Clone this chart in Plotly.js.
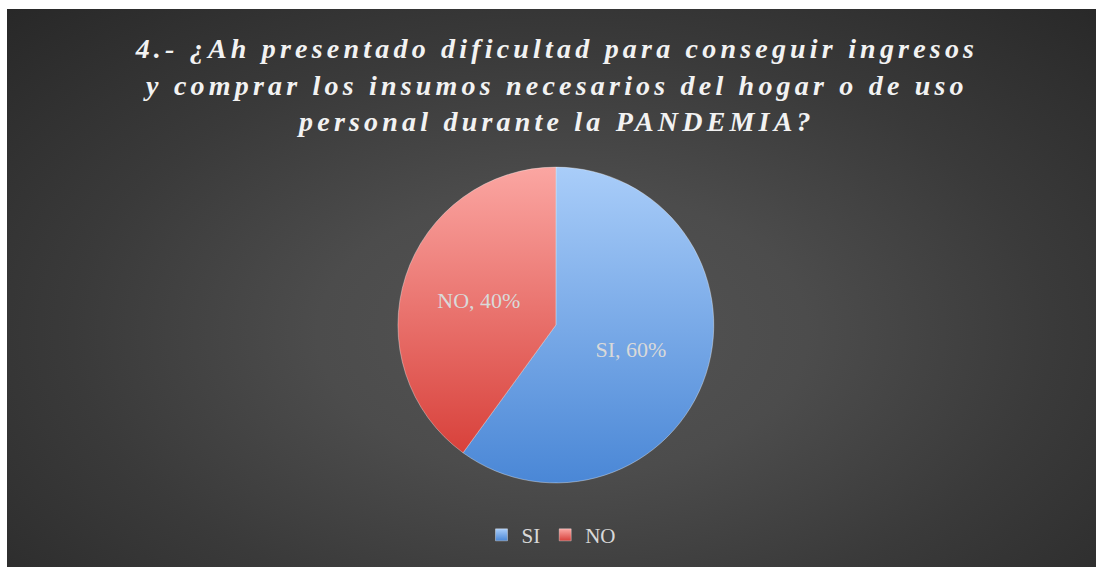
<!DOCTYPE html>
<html><head><meta charset="utf-8">
<script src="https://cdn.plot.ly/plotly-3.0.1.min.js"></script>
<style>
html,body{margin:0;padding:0;background:#ffffff;overflow:hidden;}
#wrap{position:absolute;left:7px;top:9px;width:1089px;height:558px;
background:radial-gradient(ellipse 75% 85% at 51% 58%, #545454 0%, #4c4c4c 30%, #3a3a3a 60%, #262626 100%);}
#chart{width:1089px;height:558px;}
.gtitle{letter-spacing:4.2px;}
</style></head><body>
<div id="wrap"><div id="chart"></div></div>
<script>
const categories = ['SI', 'NO'];
const values = [60, 40];
const titleLines = [
  '4.- ¿Ah presentado dificultad para conseguir ingresos',
  'y comprar los insumos necesarios del hogar o de uso',
  'personal durante la PANDEMIA?'
];
const gradients = {
  SI: ['#a9cdf9', '#4a87d6'],
  NO: ['#fba6a2', '#d8413b']
};

const trace = {
  type: 'pie',
  labels: categories,
  values: values,
  sort: false,
  direction: 'clockwise',
  rotation: 0,
  marker: {colors: categories.map(c => gradients[c][1]), line: {color: 'rgba(255,255,255,0.35)', width: 1}},
  texttemplate: '%{label}, %{percent}',
  textposition: 'inside',
  insidetextorientation: 'horizontal',
  textfont: {family: 'Liberation Serif, serif', size: 22, color: '#d9d9d9'},
  domain: {x: [0.359, 0.649], y: [0.1505, 0.7168]},
  hoverinfo: 'none'
};

const layout = {
  width: 1089, height: 558,
  margin: {l: 0, r: 0, t: 0, b: 0},
  paper_bgcolor: 'rgba(0,0,0,0)',
  plot_bgcolor: 'rgba(0,0,0,0)',
  title: {
    text: '<b><i>' + titleLines.join('<br>') + '</i></b>',
    font: {family: 'Liberation Serif, serif', size: 28, color: '#f2f2f2'},
    x: 0.505, xanchor: 'center', xref: 'paper',
    y: 0.912, yanchor: 'middle', yref: 'paper'
  },
  showlegend: true,
  legend: {
    orientation: 'h', x: 0.5, xanchor: 'center', y: 0.057, yanchor: 'middle',
    font: {family: 'Liberation Serif, serif', size: 21, color: '#d9d9d9'},
    bgcolor: 'rgba(0,0,0,0)'
  }
};

Plotly.newPlot('chart', [trace], layout, {staticPlot: true}).then(gd => {
  const svg = gd.querySelector('svg.main-svg');
  const ns = 'http://www.w3.org/2000/svg';
  let defs = svg.querySelector('defs');
  if (!defs) { defs = document.createElementNS(ns, 'defs'); svg.insertBefore(defs, svg.firstChild); }
  categories.forEach(c => {
    const g = document.createElementNS(ns, 'linearGradient');
    g.setAttribute('id', 'grad' + c);
    g.setAttribute('x1', '0'); g.setAttribute('y1', '0');
    g.setAttribute('x2', '0'); g.setAttribute('y2', '1');
    [[0, gradients[c][0]], [1, gradients[c][1]]].forEach(([o, col]) => {
      const s = document.createElementNS(ns, 'stop');
      s.setAttribute('offset', o); s.setAttribute('stop-color', col);
      g.appendChild(s);
    });
    defs.appendChild(g);
  });
  const slices = gd.querySelectorAll('.slice path.surface');
  slices.forEach((p, i) => { p.style.fill = 'url(#grad' + categories[i] + ')'; });
  const legPaths = gd.querySelectorAll('.legend .traces .legendpoints path');
  legPaths.forEach((p, i) => { if (categories[i]) p.style.fill = 'url(#grad' + categories[i] + ')'; });
});
</script>
</body></html>
